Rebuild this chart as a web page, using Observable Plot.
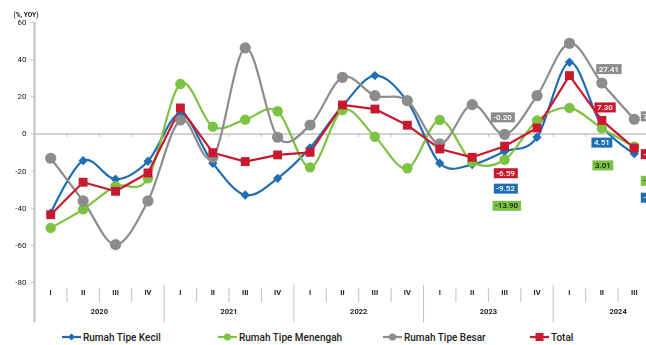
<!DOCTYPE html>
<html>
<head>
<meta charset="utf-8">
<script src="https://cdn.jsdelivr.net/npm/d3@7"></script>
<script src="https://cdn.jsdelivr.net/npm/@observablehq/plot@0.6"></script>
<style>
  html, body { margin: 0; padding: 0; background: #fff; }
  body { width: 646px; height: 345px; overflow: hidden; position: relative; font-family: Roboto, "Liberation Sans", sans-serif; }
  #chart svg { will-change: transform; -webkit-font-smoothing: antialiased; }
  #legend { position: absolute; top: 329px; left: 0; width: 646px; height: 16px; font-size: 10px; font-weight: 500; color: #222; }
  .item { position: absolute; top: 0; display: flex; align-items: center; height: 16px; }
  .item svg { margin-right: 2px; }
</style>
</head>
<body>
<div id="chart"></div>
<div id="legend"></div>
<script>
// ---------- data ----------
const years = ["2020", "2021", "2022", "2023", "2024"];
const quarters = ["I", "II", "III", "IV"];
const seriesNames = ["Rumah Tipe Kecil", "Rumah Tipe Menengah", "Rumah Tipe Besar", "Total"];
const kecil    = [-42.7, -14.4, -24.4, -14.7, 10.8, -15.8, -32.9, -23.9, -7.5, 15.0, 31.4, 17.5, -15.8, -16.5, -9.52, -1.8, 38.6, 4.51, -10.62];
const menengah = [-50.6, -40.6, -28.2, -23.9, 26.9, 3.9, 7.7, 12.2, -18.0, 12.9, -1.5, -18.5, 7.5, -15.0, -13.90, 7.2, 14.0, 3.01, -6.90];
const besar    = [-13.1, -36.1, -59.6, -36.1, 7.5, -12.6, 46.3, -1.8, 4.8, 30.5, 20.6, 17.9, -5.4, 15.8, -0.20, 20.6, 48.8, 27.41, 7.90];
const total    = [-43.5, -26.0, -30.9, -21.0, 14.0, -10.1, -14.9, -11.3, -9.9, 15.6, 13.4, 4.7, -8.1, -12.6, -6.59, 3.2, 31.4, 7.30, -7.61];
const yTicks = [60, 40, 20, 0, -20, -40, -60, -80];
const labelledPeriods = [14, 17, 18];

// ---------- styling ----------
const colors = {
  "Rumah Tipe Kecil": "#1f6db4",
  "Rumah Tipe Menengah": "#7cc243",
  "Rumah Tipe Besar": "#8c8c8c",
  "Total": "#c8192e"
};
const symbols = {
  "Rumah Tipe Kecil": "diamond2",
  "Rumah Tipe Menengah": "circle",
  "Rumah Tipe Besar": "circle",
  "Total": "square"
};
const radii = { "Rumah Tipe Kecil": 4.2, "Rumah Tipe Menengah": 5.2, "Rumah Tipe Besar": 5.6, "Total": 5.0 };
const labelTextColor = { "Rumah Tipe Kecil": "#fff", "Rumah Tipe Menengah": "#1a1a1a", "Rumah Tipe Besar": "#fff", "Total": "#fff" };

const valuesBySeries = { "Rumah Tipe Kecil": kecil, "Rumah Tipe Menengah": menengah, "Rumah Tipe Besar": besar, "Total": total };
const periods = years.flatMap(y => quarters.map(q => ({ year: y, q }))).slice(0, kecil.length);
const rows = seriesNames.flatMap(s => valuesBySeries[s].map((v, i) => ({ series: s, i, value: v })));

const n = periods.length;
const qSeps = d3.range(n - 1).map(i => i + 0.5).filter(x => (x + 0.5) % 4 !== 0);
const ySeps = d3.range(0, n + 4, 4).map(i => i - 0.5).filter(x => x < n);
const yearCenters = years.map((y, k) => ({ year: y, x: k * 4 + 1.5 }));

const smooth = d3.curveCatmullRom.alpha(0);

// label placement (dx, dy) relative to the point, per period / series
const labelPlacement = {
  14: { "Rumah Tipe Besar": [-2, -17, "middle"], "Total": [1, 27, "middle"], "Rumah Tipe Kecil": [1, 37, "middle"], "Rumah Tipe Menengah": [2, 46, "middle"] },
  17: { "Rumah Tipe Besar": [7, -14, "middle"], "Total": [3, -13, "middle"], "Rumah Tipe Kecil": [0, 17, "middle"], "Rumah Tipe Menengah": [1, 37, "middle"] },
  18: { "Rumah Tipe Besar": [9, -3, "start"], "Total": [9, 6, "start"], "Rumah Tipe Kecil": [9, 44, "start"], "Rumah Tipe Menengah": [9, 34, "start"] }
};

const labelMarks = [];
const labelBoxes = [];
for (const p of labelledPeriods) {
  for (const s of ["Rumah Tipe Besar", "Total", "Rumah Tipe Kecil", "Rumah Tipe Menengah"]) {
    const [dx, dy, anchor] = labelPlacement[p][s];
    const row = rows.filter(r => r.series === s && r.i === p);
    labelMarks.push(Plot.text(row, {
      x: "i", y: "value", text: d => d.value.toFixed(2),
      dx, dy, textAnchor: anchor, lineAnchor: "middle",
      fill: labelTextColor[s], fontSize: 8, fontWeight: 500, ariaDescription: "lbl"
    }));
    labelBoxes.push(colors[s]);
  }
}

const axisGray = "#c2c2c2";

const chart = Plot.plot({
  width: 646,
  height: 327,
  marginLeft: 34,
  marginRight: -4,
  marginTop: 22,
  marginBottom: 45,
  style: { fontFamily: "Roboto, 'Liberation Sans', sans-serif", background: "#fff", overflow: "visible" },
  x: { domain: [-0.5, n - 0.5], axis: null },
  y: { domain: [-80, 60], axis: null },
  marks: [
    // zero line and its small ticks
    Plot.ruleY([0], { stroke: axisGray, strokeWidth: 1.5 }),
    Plot.ruleX(qSeps.concat(ySeps.filter(x => x > 0)), { y1: 0, y2: -1.9, stroke: axisGray, strokeWidth: 1 }),
    // y axis line
    Plot.ruleX([-0.5], { y1: -101.6, y2: 60, stroke: axisGray, strokeWidth: 2 }),
    Plot.axisY(yTicks, { tickSize: 3, tickPadding: 5, stroke: axisGray, fill: "#222", fontSize: 8, tickFormat: d => String(d), label: null }),
    // category axis separators
    Plot.ruleX(qSeps, { y1: -83.3, y2: -90.8, stroke: axisGray, strokeWidth: 1 }),
    Plot.ruleX(ySeps.filter(x => x > 0), { y1: -81.5, y2: -101.6, stroke: axisGray, strokeWidth: 1 }),
    Plot.text(periods, { x: (d, i) => i, frameAnchor: "bottom", dy: 12, text: "q", fill: "#222", fontSize: 7.5, fontWeight: 700 }),
    Plot.text(yearCenters, { x: "x", frameAnchor: "bottom", dy: 31, text: "year", fill: "#222", fontSize: 7.5, fontWeight: 700 }),
    // unit label
    Plot.text(["(%, YOY)"], { frameAnchor: "top-left", dx: -21, dy: -10, textAnchor: "start", fill: "#222", fontSize: 6.5, fontWeight: 700 }),
    // lines
    Plot.line(rows.filter(r => r.series !== "Total"), { x: "i", y: "value", z: "series", stroke: d => colors[d.series], strokeWidth: 2.2, curve: smooth }),
    Plot.line(rows.filter(r => r.series === "Total"), { x: "i", y: "value", stroke: colors["Total"], strokeWidth: 2.2 }),
    // markers
    ...seriesNames.map(s => Plot.dot(rows.filter(r => r.series === s), { x: "i", y: "value", symbol: symbols[s], r: radii[s], fill: colors[s], stroke: "none" })),
    // value labels
    ...labelMarks
  ]
});
document.getElementById("chart").appendChild(chart);

// boxes behind value labels
const svgNS = "http://www.w3.org/2000/svg";
const lblGroups = chart.querySelectorAll('g[aria-description="lbl"]');
lblGroups.forEach((g, k) => {
  g.querySelectorAll("text").forEach(t => {
    const b = t.getBBox();
    const r = document.createElementNS(svgNS, "rect");
    r.setAttribute("x", b.x - 2.5);
    r.setAttribute("y", b.y - 0.5);
    r.setAttribute("width", b.width + 5);
    r.setAttribute("height", b.height + 1);
    r.setAttribute("fill", labelBoxes[k]);
    if (t.getAttribute("transform")) r.setAttribute("transform", t.getAttribute("transform"));
    t.parentNode.insertBefore(r, t);
  });
});

// legend
const legendLeft = { "Rumah Tipe Kecil": 62, "Rumah Tipe Menengah": 218, "Rumah Tipe Besar": 383, "Total": 530 };
const legend = document.getElementById("legend");
for (const s of seriesNames) {
  const item = document.createElement("div");
  item.className = "item";
  item.style.left = legendLeft[s] + "px";
  const sym = symbols[s];
  let marker;
  if (sym === "square") marker = `<rect x="5.5" y="4" width="8" height="8" fill="${colors[s]}"/>`;
  else if (sym === "diamond2") marker = `<path d="M9.5 4.5 L13 8 L9.5 11.5 L6 8 Z" fill="${colors[s]}"/>`;
  else marker = `<circle cx="9.5" cy="8" r="3.6" fill="${colors[s]}"/>`;
  item.innerHTML = `<svg width="19" height="16"><line x1="0" x2="19" y1="8" y2="8" stroke="${colors[s]}" stroke-width="2.2"/>${marker}</svg><span>${s}</span>`;
  legend.appendChild(item);
}
</script>
</body>
</html>
